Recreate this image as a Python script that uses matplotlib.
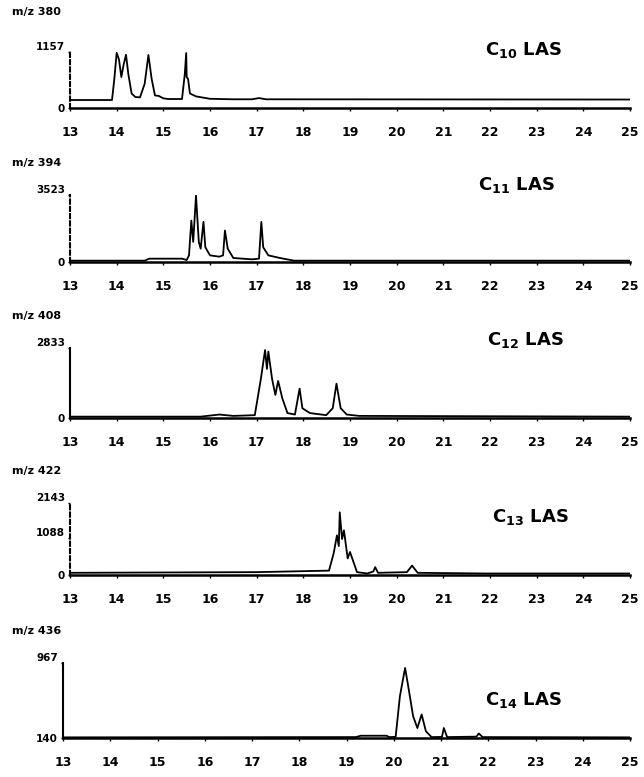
import matplotlib
matplotlib.use('Agg')
import matplotlib.pyplot as plt

plt.rcParams['font.family'] = ['DejaVu Sans']
plt.rcParams['font.weight'] = 'bold'
plt.rcParams['mathtext.default'] = 'regular'

# retention time axis (min)
xticks = list(range(13, 26))

# m/z 380 (C10 LAS), max 1157
t380 = [13.0, 13.9, 13.95, 14.0, 14.05, 14.1, 14.15, 14.2, 14.25, 14.32, 14.4, 14.5, 14.6,
        14.68, 14.75, 14.82, 14.9, 15.0, 15.1, 15.4, 15.46, 15.49, 15.5, 15.53, 15.57,
        15.7, 16.0, 16.5, 16.9, 17.05, 17.2, 25.0]
i380 = [165, 165, 600, 1140, 1000, 640, 900, 1100, 700, 300, 227, 220, 500,
        1095, 600, 260, 250, 200, 186, 186, 700, 1136, 640, 600, 300,
        240, 190, 180, 180, 205, 180, 175]

# m/z 394 (C11 LAS), max 3523
t394 = [13.0, 14.6, 14.7, 15.4, 15.5, 15.55, 15.6, 15.64, 15.7, 15.76, 15.8, 15.86, 15.9,
        16.0, 16.2, 16.28, 16.32, 16.38, 16.5, 16.9, 17.05, 17.1, 17.14, 17.25, 17.5, 17.8, 25.0]
i394 = [70, 70, 175, 175, 105, 350, 2180, 1060, 3490, 1060, 700, 2110, 775,
        350, 280, 350, 1655, 700, 210, 140, 175, 2110, 775, 350, 210, 70, 70]

# m/z 408 (C12 LAS), max 2833
t408 = [13.0, 15.8, 16.2, 16.5, 16.96, 17.09, 17.18, 17.22, 17.25, 17.33, 17.4, 17.46, 17.55,
        17.66, 17.82, 17.92, 17.98, 18.14, 18.49, 18.63, 18.71, 18.8, 18.93, 19.2, 25.0]
i408 = [55, 55, 140, 85, 115, 1585, 2750, 1985, 2690, 1585, 935, 1500, 795,
        200, 140, 1190, 395, 200, 115, 395, 1390, 395, 140, 85, 55]

# m/z 422 (C13 LAS), max 2143
t422 = [13.0, 17.0, 18.55, 18.65, 18.72, 18.76, 18.78, 18.83, 18.87, 18.95, 19.0, 19.15,
        19.37, 19.5, 19.54, 19.6, 20.22, 20.33, 20.45, 21.9, 25.0]
i422 = [65, 85, 130, 645, 1180, 860, 1865, 1070, 1330, 495, 685, 85,
        45, 105, 235, 65, 85, 280, 65, 45, 45]

# m/z 436 (C14 LAS), range 140 - 967
t436 = [13.0, 19.2, 19.3, 19.85, 19.9, 20.04, 20.13, 20.24, 20.3, 20.41, 20.5, 20.59, 20.68,
        20.8, 21.02, 21.06, 21.13, 21.75, 21.8, 21.88, 25.0]
i436 = [147, 150, 165, 165, 150, 152, 600, 912, 730, 380, 250, 400, 215,
        150, 152, 250, 150, 155, 190, 150, 147]

fig = plt.figure(figsize=(6.44, 7.77), dpi=100)
H = 777.0
W = 644.0
RIGHT = 630

panels = [
    # (mz, t, i, yticks, top px, axis px, left px, label, label px, dashed spine)
    ('m/z 380', t380, i380, [0, 1157], 52, 108, 70, r'C$_{10}$ LAS', (485, 50), True),
    ('m/z 394', t394, i394, [0, 3523], 195, 262, 70, r'C$_{11}$ LAS', (478, 185), True),
    ('m/z 408', t408, i408, [0, 2833], 348, 418, 70, r'C$_{12}$ LAS', (487, 340), False),
    ('m/z 422', t422, i422, [0, 1088, 2143], 503, 575, 70, r'C$_{13}$ LAS', (492, 517), True),
    ('m/z 436', t436, i436, [140, 967], 663, 738, 63, r'C$_{14}$ LAS', (485, 700), False),
]

for mz, t, inten, yt, top, bot, left, lab, lpos, dashed in panels:
    ax = fig.add_axes([left / W, 1 - bot / H, (RIGHT - left) / W, (bot - top) / H])
    ax.plot(t, inten, color='black', linewidth=1.3)
    ax.set_xlim(13, 25)
    ax.set_ylim(yt[0], yt[-1])
    ax.set_xticks(xticks)
    ax.set_xticklabels([str(x) for x in xticks], fontsize=9, fontweight='bold')
    ax.set_yticks(yt)
    ax.set_yticklabels([str(y) for y in yt], fontsize=7.5, fontweight='bold')
    for lbl in ax.get_yticklabels()[1:]:
        lbl.set_verticalalignment('bottom')
    ax.tick_params(axis='x', length=2, width=1, pad=11)
    ax.tick_params(axis='y', length=1.5, width=1, pad=2)
    for s in ['top', 'right']:
        ax.spines[s].set_visible(False)
    ax.spines['bottom'].set_linewidth(1.8)
    ax.spines['left'].set_linewidth(1.5)
    if dashed:
        ax.spines['left'].set_linestyle((0, (2, 1.5)))
    ax.patch.set_alpha(0)
    fig.text(12 / W, 1 - (top - 40 if mz == 'm/z 380' else top - 32) / H, mz,
             fontsize=8, fontweight='bold', va='center', ha='left')
    fig.text(lpos[0] / W, 1 - lpos[1] / H, lab, fontsize=13, fontweight='bold',
             va='center', ha='left')

plt.savefig('out.png', dpi=100)
